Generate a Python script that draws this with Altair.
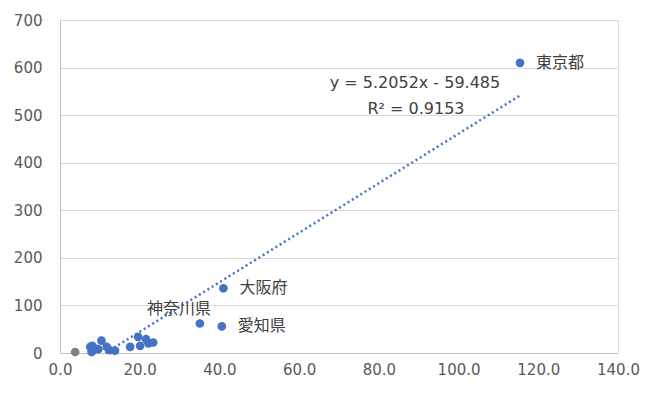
import altair as alt
import pandas as pd

# data
x_vals = [3.8, 7.6, 7.9, 8.4, 8.1, 9.0, 9.6, 10.4, 11.7, 12.4, 13.8, 17.6, 19.6, 20.1, 21.6, 22.2, 23.4, 35.1, 40.6, 41.0, 115.4]
y_vals = [2, 13, 2, 6, 15, 9, 8, 26, 13, 6, 5, 13, 34, 15, 29, 20, 22, 62, 56, 136, 610]
groups = ["gray"] + ["blue"] * 20
labels = [""] * 17 + ["神奈川県", "愛知県", "大阪府", "東京都"]
slope = 5.2052
intercept = -59.485
r2 = 0.9153

df = pd.DataFrame({"x": x_vals, "y": y_vals, "g": groups, "label": labels})

x0 = -intercept / slope
x1 = max(x_vals)
trend = pd.DataFrame({"x": [x0, x1], "y": [slope * x0 + intercept, slope * x1 + intercept]})

FONT = "DejaVu Sans"
JFONT = "Noto Sans CJK JP"
xs = alt.Scale(domain=[0, 140], nice=False, zero=True)
ys = alt.Scale(domain=[0, 700], nice=False)

base = alt.Chart(df)

points = base.mark_circle(size=75, opacity=1).encode(
    x=alt.X("x:Q", scale=xs, axis=alt.Axis(values=[0, 20, 40, 60, 80, 100, 120, 140], format=".1f",
                                            title=None, grid=False, ticks=False, labelPadding=9,
                                            labelFlush=False, domainColor="#BFBFBF", labelFont=FONT,
                                            labelFontSize=15, labelColor="#595959")),
    y=alt.Y("y:Q", scale=ys, axis=alt.Axis(values=[0, 100, 200, 300, 400, 500, 600, 700],
                                            title=None, grid=True, gridColor="#D9D9D9", ticks=False,
                                            labelPadding=18, labelFlush=False, domainColor="#BFBFBF",
                                            labelFont=FONT, labelFontSize=15, labelColor="#595959")),
    color=alt.Color("g:N", scale=alt.Scale(domain=["blue", "gray"], range=["#4472C4", "#7F7F7F"]), legend=None),
)

line = alt.Chart(trend).mark_line(color="#4472C4", strokeWidth=2.5, strokeDash=[2, 3]).encode(
    x=alt.X("x:Q", scale=xs), y=alt.Y("y:Q", scale=ys)
)

right_labels = base.transform_filter(
    alt.FieldOneOfPredicate(field="label", oneOf=["東京都", "大阪府", "愛知県"])
).mark_text(align="left", dx=16, font=JFONT, fontSize=16, color="#404040", baseline="middle").encode(
    x=alt.X("x:Q", scale=xs), y=alt.Y("y:Q", scale=ys), text="label:N"
)

kana_label = base.transform_filter(
    alt.FieldEqualPredicate(field="label", equal="神奈川県")
).mark_text(align="center", dx=-21, dy=-15, font=JFONT, fontSize=16, color="#404040", baseline="middle").encode(
    x=alt.X("x:Q", scale=xs), y=alt.Y("y:Q", scale=ys), text="label:N"
)

eq_text = alt.Chart(pd.DataFrame({"t": [f"y = {slope}x - {-intercept}"]})).mark_text(
    font=FONT, fontSize=16, color="#404040", align="center", baseline="middle"
).encode(x=alt.value(355), y=alt.value(63), text="t:N")

r2_text = alt.Chart(pd.DataFrame({"t": [f"R² = {r2}"]})).mark_text(
    font=FONT, fontSize=16, color="#404040", align="center", baseline="middle"
).encode(x=alt.value(356), y=alt.value(89), text="t:N")

chart = alt.layer(line, points, right_labels, kana_label, eq_text, r2_text).properties(
    width=558, height=333,
    autosize=alt.AutoSizeParams(type="none"),
    padding={"left": 52, "top": 12, "right": 36, "bottom": 30},
).configure_view(stroke=None).configure(background="white")

chart.save("out.html", embed_options={"renderer": "svg", "actions": False})
